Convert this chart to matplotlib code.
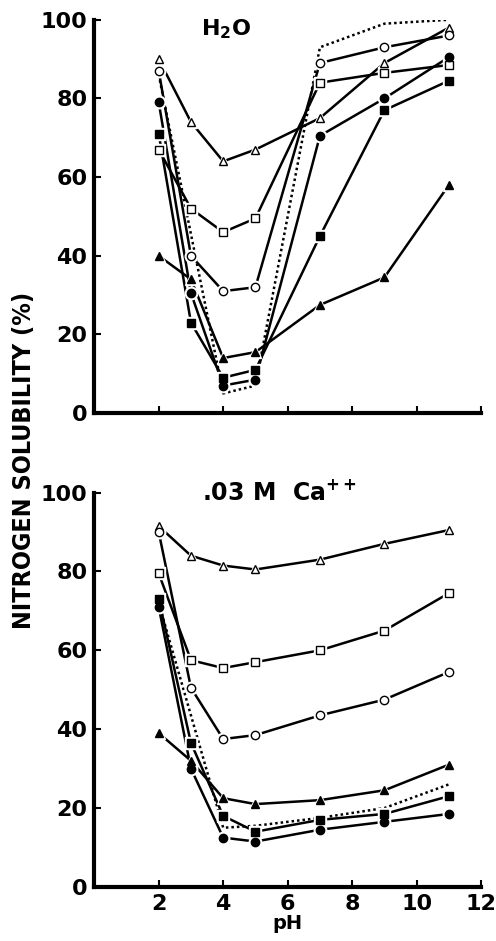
import matplotlib.pyplot as plt

ph = [2, 3, 4, 5, 7, 9, 11]
ph_dot = [2, 4, 5, 7, 9, 11]

# H2O panel
h2o_tri_open = [90, 74, 64, 67, 75, 89, 98]
h2o_circ_open = [87, 40, 31, 32, 89, 93, 96]
h2o_sq_open = [67, 52, 46, 49.5, 84, 86.5, 88.5]
h2o_circ_fill = [79, 30.5, 7, 8.5, 70.5, 80, 90.5]
h2o_sq_fill = [71, 23, 9, 11, 45, 77, 84.5]
h2o_tri_fill = [40, 34, 14, 15.5, 27.5, 34.5, 58]
h2o_dotted = [86, 5, 7, 93, 99, 100]

# .03 M Ca++ panel
ca_tri_open = [91.5, 84, 81.5, 80.5, 83, 87, 90.5]
ca_circ_open = [90, 50.5, 37.5, 38.5, 43.5, 47.5, 54.5]
ca_sq_open = [79.5, 57.5, 55.5, 57, 60, 65, 74.5]
ca_circ_fill = [71, 30, 12.5, 11.5, 14.5, 16.5, 18.5]
ca_sq_fill = [73, 36.5, 18, 14, 17, 18.5, 23]
ca_tri_fill = [39, 32, 22.5, 21, 22, 24.5, 31]
ca_dotted = [72, 15, 15.5, 17.5, 20, 26]

plt.rcParams['font.family'] = ['DejaVu Sans']
plt.rcParams['font.weight'] = 'bold'

fig = plt.figure(figsize=(4.96, 9.41), dpi=100)
ax1 = fig.add_axes([0.19, 0.561, 0.78, 0.418])
ax2 = fig.add_axes([0.19, 0.0575, 0.78, 0.419])


def series(ax, y, marker, filled):
    fc = 'black' if filled else 'white'
    ax.plot(ph, y, ls='none', marker=marker, ms=9, mfc='white', mec='white',
            zorder=2)
    ax.plot(ph, y, color='black', lw=1.8, zorder=1)
    ax.plot(ph, y, ls='none', marker=marker, ms=6, mfc=fc, mec='black',
            mew=1.0, zorder=3)


panels = [
    (ax1, [h2o_tri_open, h2o_circ_open, h2o_sq_open, h2o_circ_fill,
           h2o_sq_fill, h2o_tri_fill], h2o_dotted),
    (ax2, [ca_tri_open, ca_circ_open, ca_sq_open, ca_circ_fill,
           ca_sq_fill, ca_tri_fill], ca_dotted),
]
styles = [('^', False), ('o', False), ('s', False),
          ('o', True), ('s', True), ('^', True)]

for ax, data, dotted in panels:
    ax.plot(ph_dot, dotted, color='black', lw=1.8, ls=(0, (1, 1.2)), zorder=1)
    for y, (m, f) in zip(data, styles):
        series(ax, y, m, f)
    ax.set_xlim(0, 12)
    ax.set_ylim(0, 100)
    ax.set_xticks([2, 4, 6, 8, 10, 12])
    ax.set_yticks([0, 20, 40, 60, 80, 100])
    ax.spines['top'].set_visible(False)
    ax.spines['right'].set_visible(False)
    ax.spines['left'].set_linewidth(3)
    ax.spines['bottom'].set_linewidth(3)
    ax.tick_params(direction='in', length=5, width=1.5, labelsize=16, pad=5)
    for lab in ax.get_yticklabels() + ax.get_xticklabels():
        lab.set_fontweight('bold')

ax1.tick_params(axis='x', labelbottom=False)
ax2.set_xlabel('pH', fontsize=14, fontweight='bold', labelpad=0)

ax1.text(4.1, 97.5, 'H$_\\mathbf{2}$O', fontsize=16, fontweight='bold',
         ha='center', va='center')
ax2.text(3.35, 100, '.03 M  Ca$^{++}$', fontsize=17, fontweight='bold',
         ha='left', va='center')

fig.text(0.048, 0.511, 'NITROGEN SOLUBILITY (%)', rotation=90, fontsize=18,
         fontweight='bold', fontstretch='condensed', ha='center', va='center')

fig.savefig('out.png', dpi=100)
